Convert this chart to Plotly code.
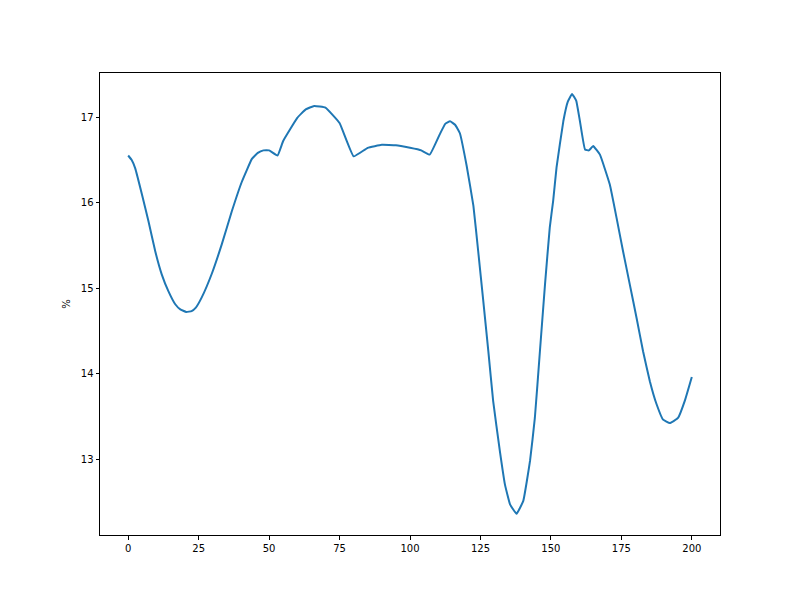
import plotly.graph_objects as go

# values
x = [0, 1.2, 2.5, 5, 7.2, 9.6, 11.9, 14.3, 16.7, 18.5, 20.6, 22.5, 24, 26.1, 29.7, 33.2, 36.8, 40.3, 43.9,
     46, 48, 50, 53, 55, 60, 63, 66, 70, 75, 80, 85, 90, 95, 100, 104, 107,
     110.6, 112.5, 114.2, 116, 117.7, 120.1, 122.5, 124.2, 126, 127.8, 129.5, 131.9, 133.7, 135.5, 137.8,
     140.2, 142.6, 144.3, 146.1, 147.9, 149.6, 150.8, 152, 154.4, 156, 157.5, 159, 160.3, 162.1,
     163.5, 165, 167.4, 170.9, 173.3, 175.6, 178, 180.4, 182.7, 185.1, 187.5, 189.8, 192.2,
     195.1, 197.5, 200]
pct = [16.55, 16.50, 16.40, 16.08, 15.78, 15.43, 15.16, 14.96, 14.81, 14.75, 14.72, 14.73, 14.77, 14.89, 15.17, 15.51, 15.90, 16.24, 16.51,
       16.58, 16.61, 16.61, 16.55, 16.72, 16.99, 17.09, 17.13, 17.11, 16.93, 16.54, 16.64, 16.675, 16.67, 16.64, 16.61, 16.56,
       16.80, 16.92, 16.95, 16.91, 16.81, 16.43, 15.96, 15.43, 14.85, 14.26, 13.68, 13.09, 12.70, 12.47, 12.36,
       12.51, 12.98, 13.48, 14.26, 15.04, 15.71, 16.02, 16.41, 16.95, 17.18, 17.27, 17.19, 16.95, 16.62,
       16.61, 16.66, 16.56, 16.21, 15.82, 15.43, 15.04, 14.65, 14.26, 13.91, 13.64, 13.46, 13.42,
       13.48, 13.68, 13.96]

fig = go.Figure()
fig.add_trace(go.Scatter(x=x, y=pct, mode="lines",
                         line=dict(color="#1f77b4", width=2, shape="spline", smoothing=0.3)))

axis_style = dict(showgrid=False, zeroline=False, showline=True, mirror=True,
                  linecolor="black", linewidth=1, ticks="outside", ticklen=3.5,
                  tickcolor="black", tickfont=dict(size=10, color="black"))

fig.update_layout(
    width=800, height=600,
    margin=dict(l=92, r=88, t=65, b=73),
    paper_bgcolor="white", plot_bgcolor="white",
    font=dict(family="DejaVu Sans", size=10, color="black"),
    showlegend=False,
    xaxis=dict(range=[-10, 210], tickvals=[0, 25, 50, 75, 100, 125, 150, 175, 200], **axis_style),
    yaxis=dict(range=[12.111, 17.515], tickvals=[13, 14, 15, 16, 17],
               title=dict(text="%", standoff=8, font=dict(size=10)), **axis_style),
)

fig.write_html("out.html")
